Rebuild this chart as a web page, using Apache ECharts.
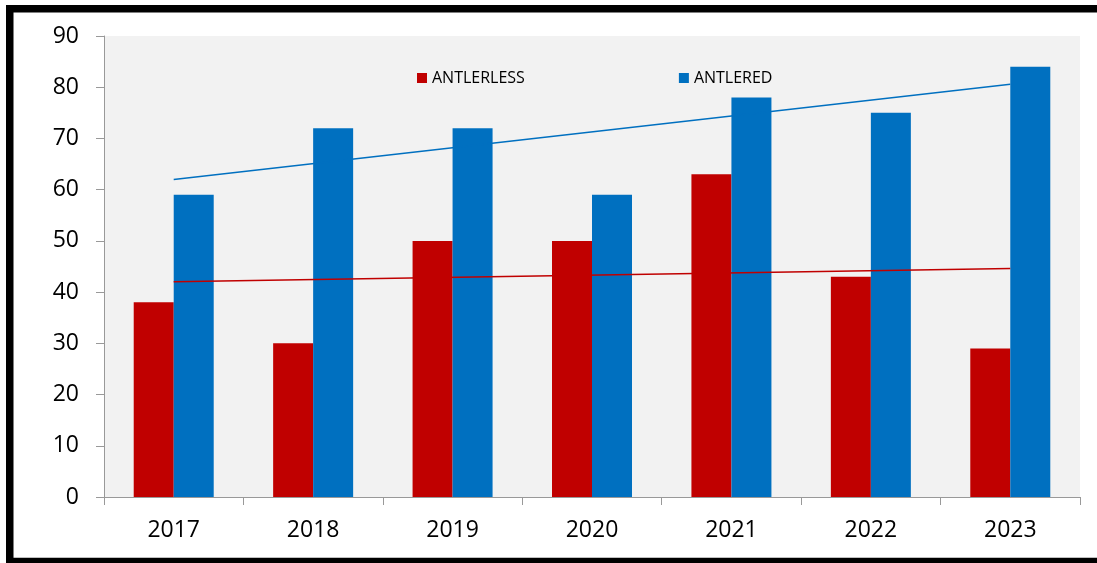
<!DOCTYPE html>
<html>
<head>
<meta charset="utf-8">
<script src="https://cdn.jsdelivr.net/npm/echarts@6/dist/echarts.min.js"></script>
<style>
html,body{margin:0;padding:0;background:#fff;}
#chart{width:1097px;height:563px;}
</style>
</head>
<body>
<div id="chart"></div>
<script>
const years = ['2017','2018','2019','2020','2021','2022','2023'];
const antlerless = [38, 30, 50, 50, 63, 43, 29];
const antlered = [59, 72, 72, 59, 78, 75, 84];
// trend line endpoints (first and last category)
const antlerlessTrend = [42, null, null, null, null, null, 44.6];
const antleredTrend = [62, null, null, null, null, null, 80.6];
const yTicks = {min: 0, max: 90, interval: 10};

const RED = '#c00000';
const BLUE = '#0070c0';
const FONT = '"Open Sans", "Liberation Sans", sans-serif';

const chart = echarts.init(document.getElementById('chart'), null, {renderer: 'canvas'});
chart.setOption({
  animation: false,
  backgroundColor: '#ffffff',
  grid: {
    left: 104, right: 17, top: 36, bottom: 66,
    show: true, backgroundColor: '#f2f2f2', borderWidth: 0
  },
  legend: {
    data: ['ANTLERLESS', 'ANTLERED'],
    left: 412, top: 65,
    itemWidth: 10, itemHeight: 10, itemGap: 154,
    icon: 'rect',
    textStyle: {fontFamily: FONT, fontSize: 16, color: '#000', padding: [0,0,0,0]}
  },
  xAxis: {
    type: 'category',
    data: years,
    boundaryGap: true,
    axisLine: {show: true, lineStyle: {color: '#999', width: 1}},
    axisTick: {show: true, length: 8, interval: 0, alignWithLabel: false, lineStyle: {color: '#999'}},
    axisLabel: {fontFamily: FONT, fontSize: 23, color: '#000', margin: 22, interval: 0},
    splitLine: {show: false}
  },
  yAxis: {
    type: 'value',
    min: yTicks.min, max: yTicks.max, interval: yTicks.interval,
    axisLine: {show: true, lineStyle: {color: '#999', width: 1}},
    axisTick: {show: true, length: 8, lineStyle: {color: '#999'}},
    axisLabel: {fontFamily: FONT, fontSize: 23, color: '#000', margin: 25},
    splitLine: {show: false}
  },
  series: [
    {name: 'ANTLERLESS', type: 'bar', data: antlerless, barWidth: 40, barGap: '0%',
     itemStyle: {color: RED}},
    {name: 'ANTLERED', type: 'bar', data: antlered, barWidth: 40, barGap: '0%',
     itemStyle: {color: BLUE}},
    {name: 'ANTLERLESS trend', type: 'line', data: antlerlessTrend, connectNulls: true,
     symbol: 'none', lineStyle: {color: RED, width: 1.5}, z: 5, silent: true},
    {name: 'ANTLERED trend', type: 'line', data: antleredTrend, connectNulls: true,
     symbol: 'none', lineStyle: {color: BLUE, width: 1.5}, z: 5, silent: true}
  ],
  graphic: [{
    type: 'rect', z: 100, silent: true,
    shape: {x: 9.75, y: 8.75, width: 1120, height: 552.75},
    style: {fill: null, stroke: '#000', lineWidth: 7.5}
  }]
});
</script>
</body>
</html>
